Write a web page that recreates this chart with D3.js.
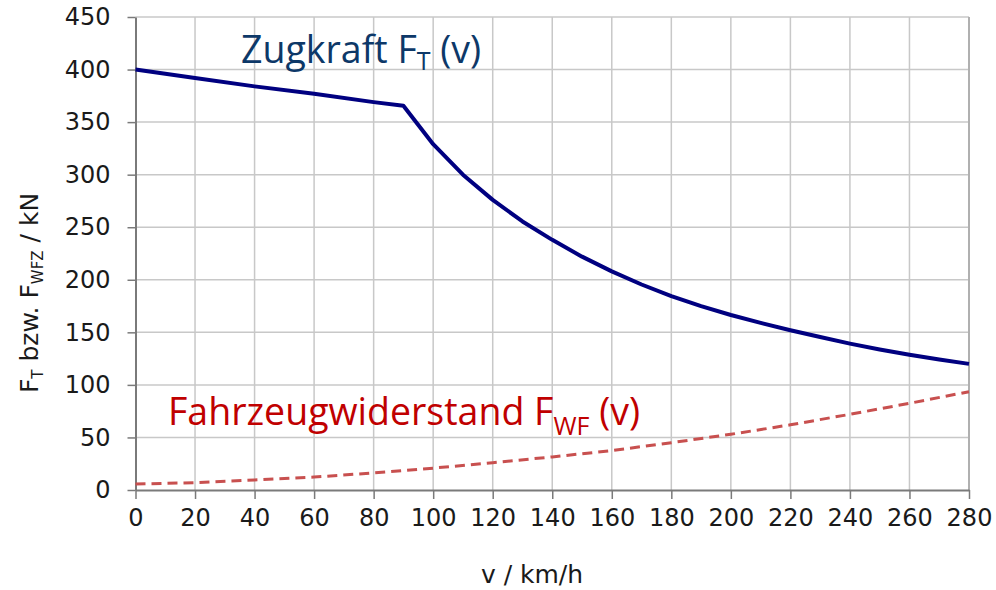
<!DOCTYPE html>
<html><head><meta charset="utf-8">
<script src="https://cdn.jsdelivr.net/npm/d3@7"></script>
<style>body{margin:0;background:#fff}svg{display:block}</style>
</head><body><svg id="c" width="996" height="590"></svg>
<script>
// Data
const speedTicks = [0,20,40,60,80,100,120,140,160,180,200,220,240,260,280];
const forceTicks = [0,50,100,150,200,250,300,350,400,450];
const zugV = [0,20,40,60,80,90,100,110,120,130,140,150,160,170,180,190,200,210,220,230,240,250,260,270,280];
const zugF = [400,392,384,377,369,365.5,329,300,276,255.5,238,222,208,195.5,184.5,175,166.5,159,152,145.5,139.3,133.7,128.7,124.2,120];
const widV = [0,20,40,60,80,100,120,140,160,180,200,220,240,260,280];
const widF = [5.7,7,9.5,12.3,16.3,20.8,26,31.5,37.5,45,53,62,72,82.5,93.5];

const svg = d3.select('#c');
const x = d3.scaleLinear().domain([0,280]).range([135.5,969]);
const y = d3.scaleLinear().domain([0,450]).range([490,17]);
const tickFont = 'DejaVu Sans, Verdana, sans-serif';

// grid
svg.append('g').selectAll('line').data(forceTicks.filter(d=>d>0)).join('line')
  .attr('x1',x(0)).attr('x2',x(280)).attr('y1',d=>y(d)).attr('y2',d=>y(d))
  .attr('stroke','#c8c8c8').attr('stroke-width',1.5);
svg.append('g').selectAll('line').data(speedTicks.filter(d=>d>0&&d<280)).join('line')
  .attr('x1',d=>x(d)).attr('x2',d=>x(d)).attr('y1',y(0)).attr('y2',y(450))
  .attr('stroke','#c8c8c8').attr('stroke-width',1.5);
svg.append('line').attr('x1',x(280)).attr('x2',x(280)).attr('y1',y(0)).attr('y2',y(450))
  .attr('stroke','#b0b0b0').attr('stroke-width',2);

// axes
const xAxis = d3.axisBottom(x).tickValues(speedTicks).tickSize(9).tickPadding(10).tickSizeOuter(0);
const yAxis = d3.axisLeft(y).tickValues(forceTicks).tickSize(8).tickPadding(17).tickSizeOuter(0);
const gx = svg.append('g').attr('transform',`translate(0,${y(0)})`).call(xAxis);
const gy = svg.append('g').attr('transform',`translate(${x(0)},0)`).call(yAxis);
[gx,gy].forEach(g=>{
  g.select('.domain').attr('stroke','#7a7a7a').attr('stroke-width',2);
  g.selectAll('.tick line').attr('stroke','#7a7a7a').attr('stroke-width',1.5);
  g.selectAll('.tick text').attr('font-family',tickFont).attr('font-size',24).attr('fill','#1a1a1a');
});

// lines
const line = d3.line().x(d=>x(d[0])).y(d=>y(d[1]));
svg.append('path').datum(widV.map((v,i)=>[v,widF[i]])).attr('d',line)
  .attr('fill','none').attr('stroke','#c8504f').attr('stroke-width',3).attr('stroke-dasharray','10,6');
svg.append('path').datum(zugV.map((v,i)=>[v,zugF[i]])).attr('d',line)
  .attr('fill','none').attr('stroke','#000080').attr('stroke-width',4).attr('stroke-linejoin','round');

// axis titles
svg.append('text').attr('x',532).attr('y',583).attr('text-anchor','middle')
  .attr('font-family',tickFont).attr('font-size',25).attr('fill','#1a1a1a').attr('xml:space','preserve').text('v / km/h');
const yl = svg.append('text').attr('transform','translate(38,293) rotate(-90)').attr('text-anchor','middle')
  .attr('font-family',tickFont).attr('font-size',25).attr('fill','#1a1a1a');
yl.append('tspan').text('F');
yl.append('tspan').attr('font-size',15).attr('dy',5).text('T');
yl.append('tspan').attr('dy',-5).text(' bzw. F');
yl.append('tspan').attr('font-size',15).attr('dy',5).text('WFZ');
yl.append('tspan').attr('dy',-5).text(' / kN');

// annotations
const annFont = '"Open Sans", sans-serif';
const a1 = svg.append('text').attr('x',241).attr('y',63).attr('font-family',annFont).attr('font-size',37.5).attr('fill','#0d3868');
a1.append('tspan').text('Zugkraft F');
a1.append('tspan').attr('font-size',25).attr('dy',7).text('T');
a1.append('tspan').attr('dy',-7).text(' (v)');
const a2 = svg.append('text').attr('x',168).attr('y',425).attr('font-family',annFont).attr('font-size',37.5).attr('fill','#c00000');
a2.append('tspan').text('Fahrzeugwiderstand F');
a2.append('tspan').attr('font-size',25).attr('dy',10).text('WF');
a2.append('tspan').attr('dy',-10).text(' (v)');
</script></body></html>
